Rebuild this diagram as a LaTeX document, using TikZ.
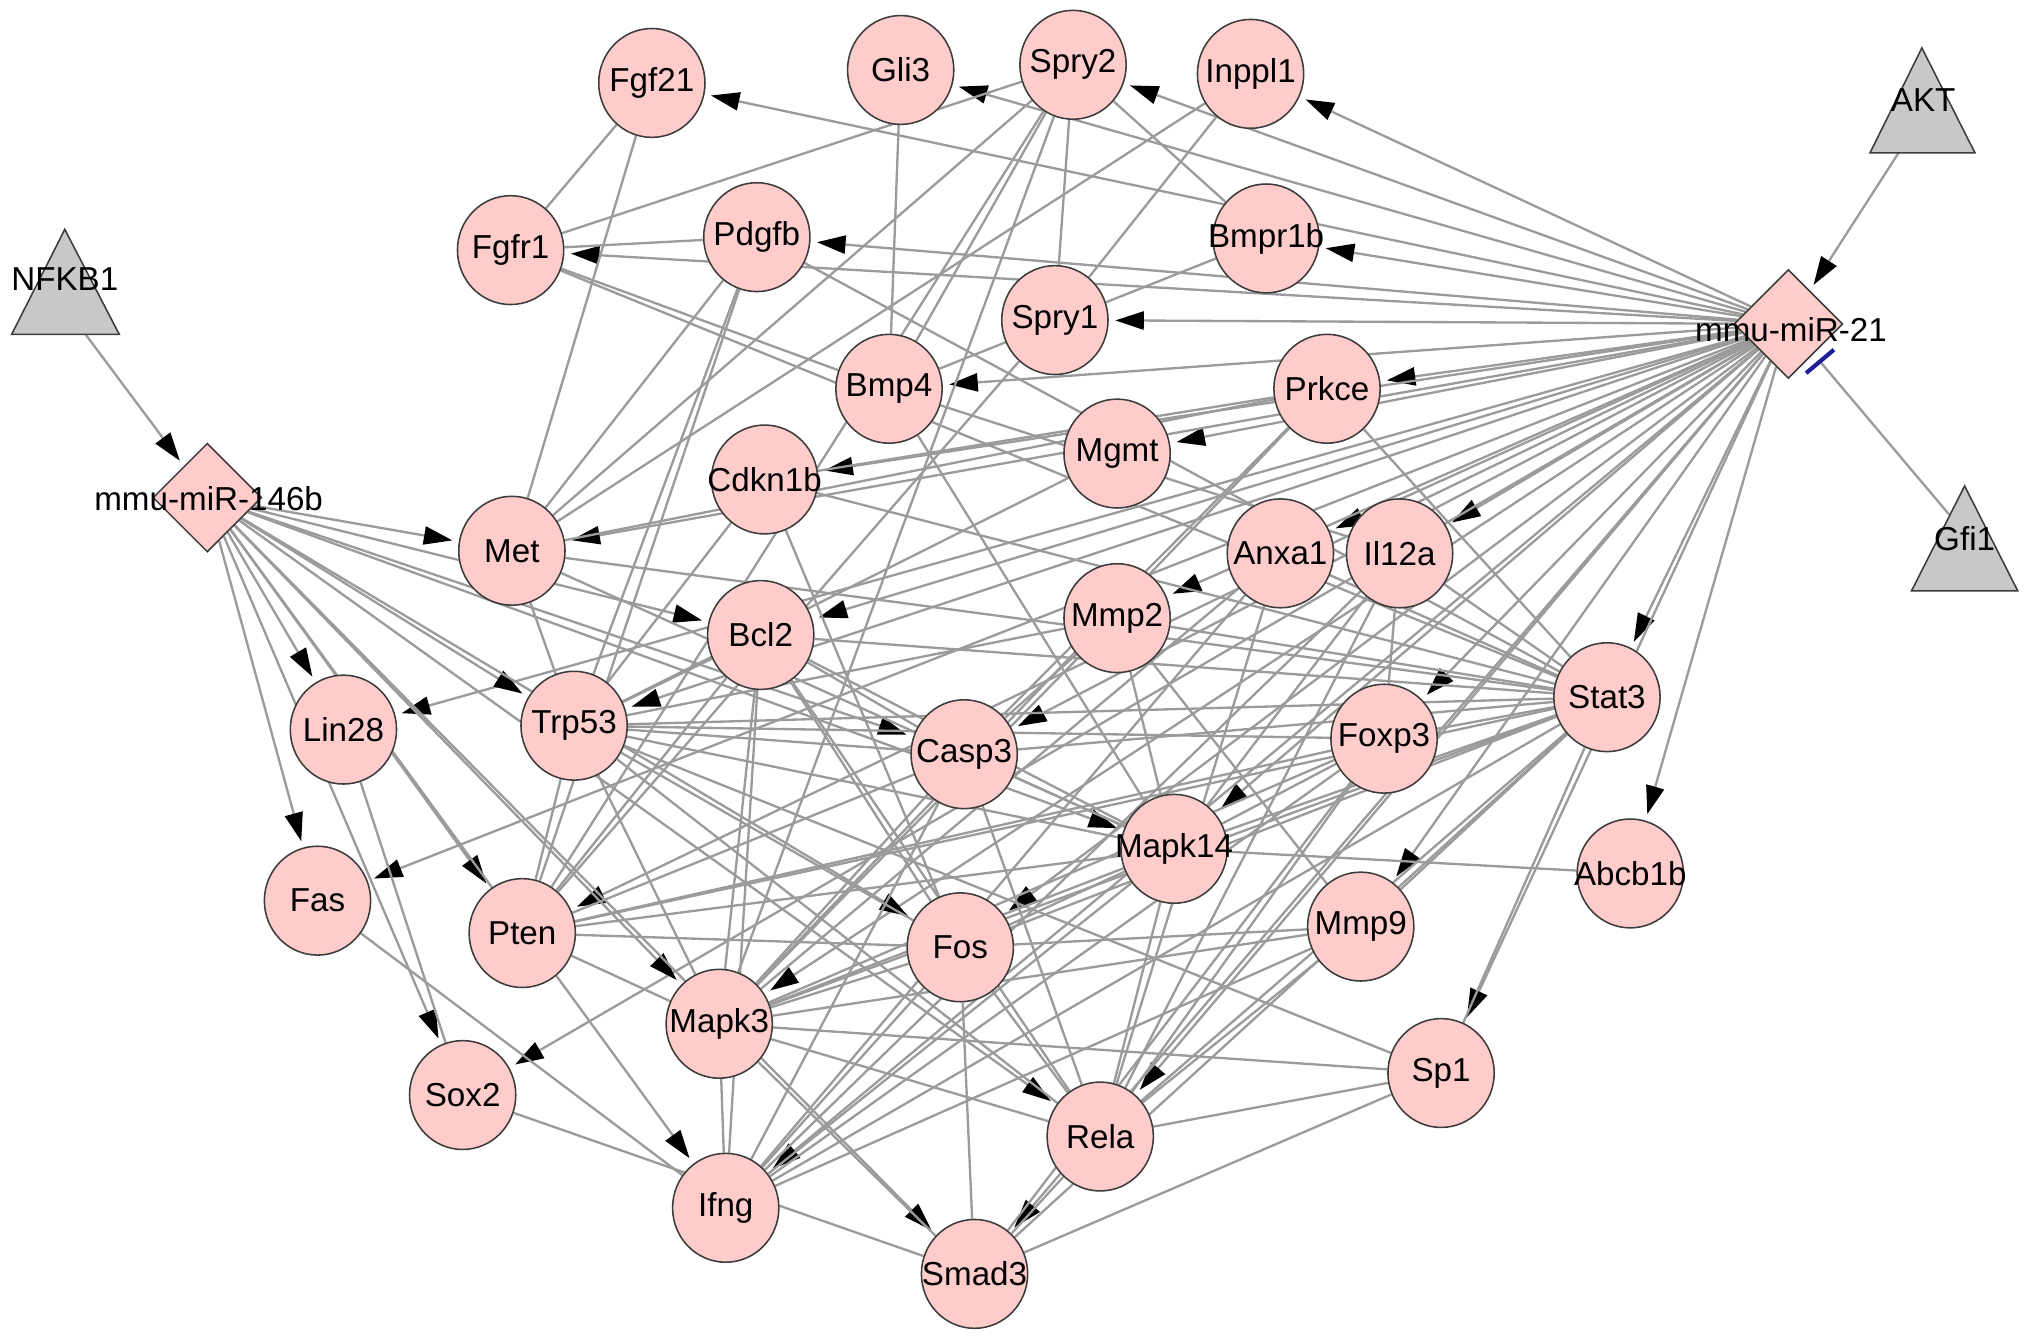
\documentclass[tikz,border=0pt]{standalone}
\usepackage{fontspec}
\setmainfont{Liberation Sans}
\usetikzlibrary{arrows.meta,shapes.geometric}
\definecolor{pinkfill}{RGB}{255,204,204}
\definecolor{edgegray}{RGB}{155,155,155}
\definecolor{trigray}{RGB}{200,200,200}
\definecolor{borderc}{RGB}{60,60,60}
\definecolor{barblue}{RGB}{30,30,150}
\newcommand{\gl}[1]{\makebox[0pt]{#1}}
\pgfdeclarelayer{bg}
\pgfsetlayers{bg,main}
\begin{document}
\begin{tikzpicture}[x=0.5pt,y=-0.5pt,
  gene/.style={ellipse,draw=borderc,fill=pinkfill,line width=0.6pt,minimum width=41pt,minimum height=42pt,inner sep=0pt,font=\fontsize{12.8}{14}\selectfont},
  mir/.style={diamond,draw=borderc,fill=pinkfill,line width=0.6pt,minimum width=42pt,minimum height=42pt,inner sep=0pt},
  lbl/.style={font=\fontsize{12.8}{14}\selectfont,inner sep=0pt},
  tri/.style={draw=borderc,fill=trigray,line width=0.6pt,line join=miter},
  ppi/.style={draw=edgegray,line width=0.9pt},
  tgt/.style={draw=edgegray,line width=0.9pt,-{Triangle[length=11pt,width=7pt,color=black]},shorten >=2.5pt},
  inh/.style={draw=edgegray,line width=0.9pt,-{Bar[width=14pt,line width=1.6pt,color=barblue]},shorten >=3pt}
]
\useasboundingbox (0,0) rectangle (1568,1036);
% triangles
\filldraw[tri] (50,177) -- (9,258) -- (92,258) -- cycle;
\filldraw[tri] (1483,37) -- (1443,118) -- (1524,118) -- cycle;
\filldraw[tri] (1516,375) -- (1475,456) -- (1557,456) -- cycle;
\node[lbl] (nfkb1) at (50,215) {NFKB1};
\node[lbl] (akt) at (1484,77) {AKT};
\node[lbl] (gfi1) at (1516,416) {Gfi1};
\coordinate (nfkbout) at (66,258);
\coordinate (aktout) at (1465,118);
\coordinate (gfiout) at (1504,397);
% miRNAs
\node[mir] (m21) at (1380,250) {};
\node[mir] (m146) at (160,384) {};
\node[lbl] (m21l) at (1382,254) {mmu-miR-21};
\node[lbl] (m146l) at (161,385) {mmu-miR-146b};
% genes
\node[gene] (fgf21) at (503,64) {\gl{Fgf21}};
\node[gene] (gli3) at (695,54) {\gl{Gli3}};
\node[gene] (spry2) at (828,50) {\gl{Spry2}};
\node[gene] (inppl1) at (965,57) {\gl{Inppl1}};
\node[gene] (fgfr1) at (394,193) {\gl{Fgfr1}};
\node[gene] (pdgfb) at (584,183) {\gl{Pdgfb}};
\node[gene] (bmpr1b) at (977,184) {\gl{Bmpr1b}};
\node[gene] (spry1) at (814,247) {\gl{Spry1}};
\node[gene] (bmp4) at (686,300) {\gl{Bmp4}};
\node[gene] (prkce) at (1024,300) {\gl{Prkce}};
\node[gene] (cdkn1b) at (590,370) {\gl{Cdkn1b}};
\node[gene] (mgmt) at (862,350) {\gl{Mgmt}};
\node[gene] (met) at (395,425) {\gl{Met}};
\node[gene] (anxa1) at (988,427) {\gl{Anxa1}};
\node[gene] (il12a) at (1080,427) {\gl{Il12a}};
\node[gene] (bcl2) at (587,490) {\gl{Bcl2}};
\node[gene] (mmp2) at (862,477) {\gl{Mmp2}};
\node[gene] (stat3) at (1240,538) {\gl{Stat3}};
\node[gene] (lin28) at (265,563) {\gl{Lin28}};
\node[gene] (trp53) at (443,560) {\gl{Trp53}};
\node[gene] (casp3) at (744,582) {\gl{Casp3}};
\node[gene] (foxp3) at (1068,570) {\gl{Foxp3}};
\node[gene] (mapk14) at (906,655) {\gl{Mapk14}};
\node[gene] (abcb1b) at (1258,674) {\gl{Abcb1b}};
\node[gene] (fas) at (245,695) {\gl{Fas}};
\node[gene] (pten) at (403,720) {\gl{Pten}};
\node[gene] (fos) at (741,731) {\gl{Fos}};
\node[gene] (mmp9) at (1050,715) {\gl{Mmp9}};
\node[gene] (mapk3) at (555,790) {\gl{Mapk3}};
\node[gene] (sp1) at (1112,828) {\gl{Sp1}};
\node[gene] (sox2) at (357,845) {\gl{Sox2}};
\node[gene] (rela) at (849,877) {\gl{Rela}};
\node[gene] (ifng) at (560,932) {\gl{Ifng}};
\node[gene] (smad3) at (752,983) {\gl{Smad3}};
\begin{pgfonlayer}{bg}
% regulators of the miRNAs
\draw[tgt] (nfkbout) -- (m146);
\draw[tgt] (aktout) -- (m21);
\draw[inh] (gfiout) -- (m21);
% mmu-miR-21 targets
\foreach \t in {fgf21,gli3,spry2,inppl1,fgfr1,pdgfb,bmpr1b,spry1,bmp4,prkce,mgmt,cdkn1b,met,anxa1,il12a,mmp2,bcl2,stat3,casp3,foxp3,trp53,lin28,mapk14,abcb1b,mmp9,fos,fas,pten,mapk3,sox2,sp1,rela,ifng,smad3}
  \draw[tgt] (m21) -- (\t);
% mmu-miR-146b targets
\foreach \t in {met,bcl2,lin28,trp53,casp3,fas,pten,sox2,ifng,mapk3,mapk14,fos,smad3,rela}
  \draw[tgt] (m146) -- (\t);
% protein interactions
\foreach \a/\b in {fgf21/fgfr1,fgf21/met,spry2/fgfr1,spry2/spry1,spry2/bmp4,spry2/pten,spry2/mapk3,spry2/bmpr1b,spry2/met,
  fgfr1/pdgfb,fgfr1/bmp4,fgfr1/stat3,gli3/bmp4,inppl1/spry1,inppl1/met,bmpr1b/bmp4,
  pdgfb/stat3,pdgfb/trp53,pdgfb/pten,pdgfb/met,spry1/pten,bmp4/mapk14,bmp4/il12a,
  cdkn1b/prkce,cdkn1b/trp53,cdkn1b/fos,cdkn1b/stat3,prkce/stat3,prkce/met,prkce/mapk3,prkce/casp3,
  mgmt/trp53,anxa1/stat3,anxa1/mapk3,anxa1/ifng,anxa1/rela,
  il12a/ifng,il12a/stat3,il12a/rela,il12a/mapk14,il12a/foxp3,
  mmp2/trp53,mmp2/mmp9,mmp2/stat3,mmp2/casp3,mmp2/mapk3,mmp2/mapk14,
  bcl2/trp53,bcl2/casp3,bcl2/stat3,bcl2/pten,bcl2/mapk3,bcl2/ifng,bcl2/mapk14,bcl2/fos,bcl2/rela,
  met/stat3,met/trp53,met/mapk14,
  stat3/foxp3,stat3/trp53,stat3/casp3,stat3/mapk14,stat3/mapk3,stat3/fos,stat3/ifng,stat3/rela,stat3/smad3,stat3/sp1,stat3/pten,stat3/mmp9,
  trp53/casp3,trp53/mapk14,trp53/mapk3,trp53/pten,trp53/fos,trp53/sp1,trp53/rela,trp53/foxp3,
  casp3/mapk14,casp3/mapk3,casp3/ifng,casp3/pten,casp3/rela,
  mapk14/mapk3,mapk14/fos,mapk14/rela,mapk14/ifng,mapk14/foxp3,mapk14/abcb1b,mapk14/pten,
  foxp3/ifng,foxp3/rela,foxp3/smad3,foxp3/mapk3,foxp3/pten,
  mmp9/ifng,mmp9/mapk3,mmp9/rela,mmp9/fos,
  fos/mapk3,fos/smad3,fos/rela,fos/ifng,fos/pten,
  mapk3/ifng,mapk3/rela,mapk3/sp1,mapk3/smad3,mapk3/pten,
  rela/smad3,rela/sp1,sp1/smad3,sox2/smad3,fas/ifng,lin28/sox2}
  \draw[ppi] (\a) -- (\b);
\end{pgfonlayer}
\end{tikzpicture}
\end{document}
